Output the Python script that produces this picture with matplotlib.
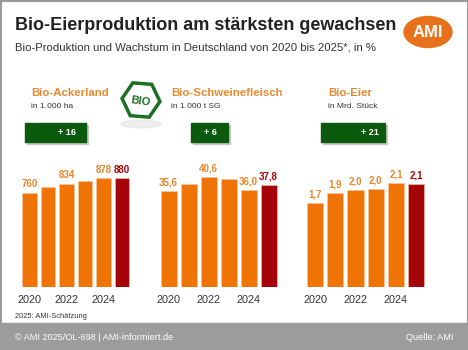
import matplotlib.pyplot as plt
import matplotlib.patches as mpatches
import numpy as np

plt.rcParams['font.family'] = ['Liberation Sans', 'DejaVu Sans']

years = [2020, 2021, 2022, 2023, 2024, 2025]
year_ticks = [2020, 2022, 2024]

ackerland = [760, 805, 834, 858, 878, 880]
ackerland_labels = ['760', '', '834', '', '878', '880']

schwein = [35.6, 38.2, 40.6, 39.8, 36.0, 37.8]
schwein_labels = ['35,6', '', '40,6', '', '36,0', '37,8']

eier = [1.7, 1.9, 1.96, 1.98, 2.1, 2.08]
eier_labels = ['1,7', '1,9', '2,0', '2,0', '2,1', '2,1']

titles = ['Bio-Ackerland', 'Bio-Schweinefleisch', 'Bio-Eier']
units = ['in 1.000 ha', 'in 1.000 t SG', 'in Mrd. Stück']
growth = ['+ 16', '+ 6', '+ 21']

ORANGE = '#F07405'
DARKRED = '#A50508'
LABEL_OR = '#E8862C'
GREEN = '#0B5A0D'
GREY = '#333333'

W, H = 468, 350
fig = plt.figure(figsize=(W / 100, H / 100), dpi=100)
bg = fig.add_axes([0, 0, 1, 1])
bg.set_xlim(0, W)
bg.set_ylim(H, 0)
bg.axis('off')

# frame and footer
bg.add_patch(mpatches.Rectangle((0.5, 0.5), W - 1, H - 1, fill=False, ec='#9a9a9a', lw=1.5))
bg.add_patch(mpatches.Rectangle((0, 323), W, 27, color='#9c9c9c'))
bg.text(15, 337, '© AMI 2025/OL-698 | AMI-informiert.de', color='white', fontsize=6.6, va='center')
bg.text(453, 337, 'Quelle: AMI', color='white', fontsize=6.6, va='center', ha='right')
bg.text(15, 317, '2025: AMI-Schätzung', color=GREY, fontsize=5.4, va='center')

# title
bg.text(15, 25, 'Bio-Eierproduktion am stärksten gewachsen', fontsize=13, fontweight='bold',
        color='#222222', va='center')
bg.text(15, 48, 'Bio-Produktion und Wachstum in Deutschland von 2020 bis 2025*, in %', fontsize=8.2,
        color=GREY, va='center')

# AMI logo
bg.add_patch(mpatches.Ellipse((428, 32), 48, 31, color='#E8721C'))
bg.text(428, 32.5, 'AMI', color='white', fontsize=12, fontweight='bold', ha='center', va='center')

# BIO logo
bg.add_patch(mpatches.Ellipse((141, 124), 40, 8, color='#e4e4e4', alpha=0.6))
bg.add_patch(mpatches.RegularPolygon((141, 100), 6, radius=19, orientation=np.pi / 6 + 0.08,
                                     fc='white', ec='#1C6E22', lw=2.5))
bg.text(141, 101, 'BIO', color='#1C6E22', fontsize=8, fontweight='bold', ha='center', va='center',
        rotation=-8)

# panel headings and growth boxes
head_x = [31, 171, 328]
boxes = [(25, 86), (191, 228), (321, 385)]
box_text_x = [67, 210, 370]
for i in range(3):
    bg.text(head_x[i], 93, titles[i], color='#E9892F', fontsize=8.2, fontweight='bold', va='center')
    bg.text(head_x[i], 106, units[i], color=GREY, fontsize=6, va='center')
    x0, x1 = boxes[i]
    bg.add_patch(mpatches.Rectangle((x0 + 1.5, 124.5), x1 - x0, 19, color='#c8c8c8'))
    bg.add_patch(mpatches.Rectangle((x0, 123), x1 - x0, 19, color=GREEN))
    bg.text(box_text_x[i], 132.5, growth[i], color='white', fontsize=6.5, fontweight='bold',
            ha='center', va='center')

# bar panels: (left px, pitch px, px per unit)
panels = [
    (ackerland, ackerland_labels, 20.3, 18.5, 0.1237),
    (schwein, schwein_labels, 158.5, 20.0, 2.705),
    (eier, eier_labels, 305.0, 20.2, 49.6),
]
bottom_px, top_px = 287, 150
for vals, labs, left, pitch, scale in panels:
    ax = fig.add_axes([left / W, (H - bottom_px) / H, 6 * pitch / W, (bottom_px - top_px) / H])
    ax.set_xlim(-0.5, 5.5)
    ax.set_ylim(0, (bottom_px - top_px) / scale)
    colors = [ORANGE] * 5 + [DARKRED]
    x = np.arange(len(years))
    ax.bar(x, vals, width=0.8, color=colors, ec='#f5c8a0', lw=0.4)
    for xi, v, lab, c in zip(x, vals, labs, colors):
        lc = DARKRED if c == DARKRED else LABEL_OR
        ax.text(xi, v + 3.5 / scale, lab, ha='center', va='bottom', fontsize=7, color=lc,
                fontweight='bold')
    ax.set_xticks([years.index(y) for y in year_ticks])
    ax.set_xticklabels([str(y) for y in year_ticks], fontsize=7.8, color=GREY)
    ax.tick_params(axis='x', length=0, pad=6)
    ax.set_yticks([])
    for s in ax.spines.values():
        s.set_visible(False)
    ax.patch.set_alpha(0)

fig.savefig('out.png', dpi=100)
